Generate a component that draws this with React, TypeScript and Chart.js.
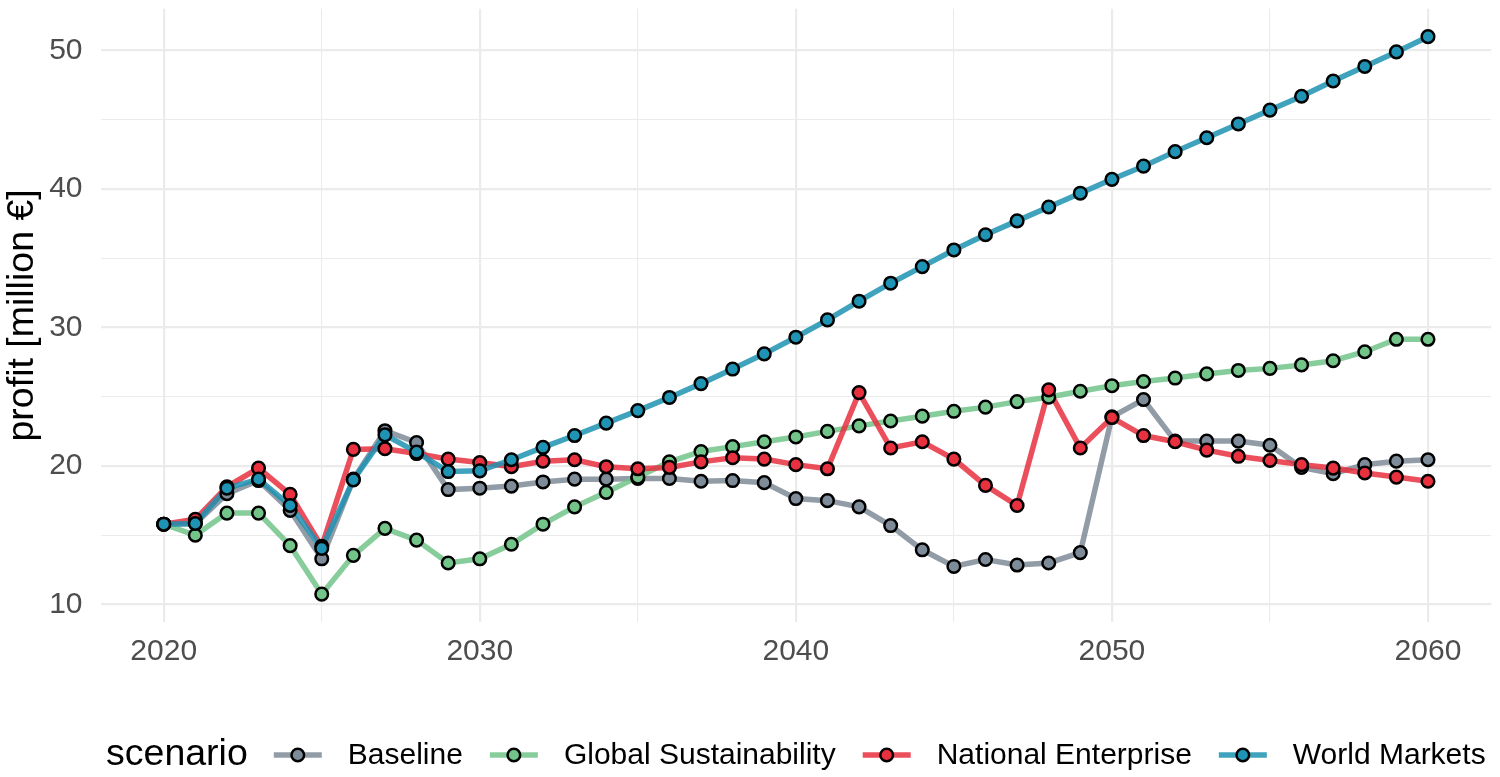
import React, { useEffect, useRef } from 'react';
import { Chart, registerables } from 'chart.js';

Chart.register(...registerables);

const years = [
  2020, 2021, 2022, 2023, 2024, 2025, 2026, 2027, 2028, 2029,
  2030, 2031, 2032, 2033, 2034, 2035, 2036, 2037, 2038, 2039,
  2040, 2041, 2042, 2043, 2044, 2045, 2046, 2047, 2048, 2049,
  2050, 2051, 2052, 2053, 2054, 2055, 2056, 2057, 2058, 2059, 2060,
];

const baseline = [
  15.8, 15.85, 18.0, 18.95, 16.8, 13.3, 19.05, 22.55, 21.7, 18.3,
  18.4, 18.55, 18.85, 19.05, 19.05, 19.1, 19.1, 18.9, 18.95, 18.8,
  17.65, 17.5, 17.05, 15.7, 13.95, 12.75, 13.25, 12.85, 13.0, 13.75,
  23.55, 24.8, 21.8, 21.8, 21.8, 21.5, 19.9, 19.45, 20.1, 20.35, 20.45,
];

const globalSustainability = [
  15.8, 15.0, 16.6, 16.6, 14.25, 10.75, 13.55, 15.5, 14.65, 13.0,
  13.3, 14.35, 15.8, 17.05, 18.1, 19.2, 20.3, 21.05, 21.4, 21.75,
  22.1, 22.5, 22.9, 23.25, 23.6, 23.95, 24.25, 24.65, 24.97, 25.4,
  25.8, 26.1, 26.35, 26.65, 26.9, 27.05, 27.3, 27.6, 28.25, 29.15, 29.15,
];

const nationalEnterprise = [
  15.8, 16.15, 18.5, 19.85, 17.95, 14.2, 21.2, 21.25, 20.9, 20.5,
  20.25, 19.95, 20.35, 20.45, 19.95, 19.8, 19.9, 20.3, 20.6, 20.5,
  20.1, 19.8, 25.3, 21.3, 21.75, 20.5, 18.6, 17.15, 25.5, 21.3,
  23.5, 22.2, 21.75, 21.15, 20.7, 20.4, 20.1, 19.85, 19.5, 19.2, 18.9,
];

const worldMarkets = [
  15.8, 15.85, 18.4, 19.05, 17.15, 14.05, 19.0, 22.25, 21.0, 19.6,
  19.65, 20.45, 21.35, 22.2, 23.1, 24.0, 24.95, 25.95, 27.0, 28.1,
  29.3, 30.55, 31.9, 33.2, 34.4, 35.6, 36.7, 37.7, 38.7, 39.7,
  40.7, 41.65, 42.7, 43.7, 44.7, 45.7, 46.7, 47.8, 48.85, 49.9, 51.0,
];

const seriesNames = ['Baseline', 'Global Sustainability', 'National Enterprise', 'World Markets'];
const seriesValues = [baseline, globalSustainability, nationalEnterprise, worldMarkets];
const pointColors = ['#7E8B98', '#72C489', '#E8303F', '#1E93B3'];
const lineColors = [
  'rgba(126,139,152,0.85)',
  'rgba(114,196,137,0.85)',
  'rgba(232,48,63,0.85)',
  'rgba(30,147,179,0.85)',
];

const xTickValues = [2020, 2025, 2030, 2035, 2040, 2045, 2050, 2055, 2060];
const yTickValues = [10, 15, 20, 25, 30, 35, 40, 45, 50];
const xMajor = [2020, 2030, 2040, 2050, 2060];
const yMajor = [10, 20, 30, 40, 50];

const legendTitle = 'scenario';
const yTitle = 'profit [million €]';

const FONT = '"Liberation Sans", Arial, Helvetica, sans-serif';
const POINT_R = 6.3;
const POINT_BW = 2.5;
const LINE_W = 5.5;

export default function App() {
  const ref = useRef<HTMLCanvasElement | null>(null);

  useEffect(() => {
    document.body.style.margin = '0';
    const canvas = ref.current;
    if (!canvas) return;

    const allVals = seriesValues.flat();
    const dMin = Math.min(...allVals);
    const dMax = Math.max(...allVals);
    const yExp = (dMax - dMin) * 0.05;
    const xMinD = Math.min(...years);
    const xMaxD = Math.max(...years);
    const xExp = (xMaxD - xMinD) * 0.05;

    const lineSets = seriesValues.map((vals, i) => ({
      label: seriesNames[i] + ' line',
      data: years.map((yr, j) => ({ x: yr, y: vals[j] })),
      borderColor: lineColors[i],
      backgroundColor: lineColors[i],
      borderWidth: LINE_W,
      pointRadius: 0,
      pointHoverRadius: 0,
      tension: 0,
      fill: false,
      order: 8 - i,
    }));
    const pointSets = seriesValues.map((vals, i) => ({
      label: seriesNames[i],
      data: years.map((yr, j) => ({ x: yr, y: vals[j] })),
      showLine: false,
      pointRadius: POINT_R,
      pointHoverRadius: POINT_R,
      pointBorderWidth: POINT_BW,
      pointBackgroundColor: pointColors[i],
      pointBorderColor: '#000000',
      borderColor: '#000000',
      backgroundColor: pointColors[i],
      order: 4 - i,
    }));

    const legendPlugin = {
      id: 'ggLegend',
      afterDraw(chart: any) {
        const ctx = chart.ctx as CanvasRenderingContext2D;
        const area = chart.chartArea;
        const cy = 755;
        const keyW = 48;
        const gapKeyText = 26;
        const gapItem = 27;
        ctx.save();
        ctx.font = `37.5px ${FONT}`;
        const titleW = ctx.measureText(legendTitle).width;
        ctx.font = `30px ${FONT}`;
        const labelWs = seriesNames.map((n) => ctx.measureText(n).width);
        let total = titleW + gapKeyText;
        labelWs.forEach((w, i) => {
          total += keyW + gapKeyText + w + (i < labelWs.length - 1 ? gapItem : 0);
        });
        let x = (area.left + area.right) / 2 - total / 2;
        ctx.textBaseline = 'middle';
        ctx.textAlign = 'left';
        ctx.fillStyle = '#000000';
        ctx.font = `37.5px ${FONT}`;
        ctx.fillText(legendTitle, x, cy);
        x += titleW + gapKeyText;
        ctx.font = `30px ${FONT}`;
        seriesNames.forEach((name, i) => {
          ctx.strokeStyle = lineColors[i];
          ctx.lineWidth = LINE_W;
          ctx.beginPath();
          ctx.moveTo(x, cy);
          ctx.lineTo(x + keyW, cy);
          ctx.stroke();
          ctx.beginPath();
          ctx.arc(x + keyW / 2, cy, POINT_R, 0, Math.PI * 2);
          ctx.fillStyle = pointColors[i];
          ctx.fill();
          ctx.lineWidth = POINT_BW;
          ctx.strokeStyle = '#000000';
          ctx.stroke();
          x += keyW + gapKeyText;
          ctx.fillStyle = '#000000';
          ctx.fillText(name, x, cy + 1);
          x += labelWs[i] + gapItem;
        });
        ctx.restore();
      },
    };

    const chart = new Chart(canvas, {
      type: 'line',
      data: { datasets: [...lineSets, ...pointSets] as any },
      options: {
        animation: false,
        responsive: false,
        maintainAspectRatio: false,
        layout: { padding: { left: 0, right: 2.5, top: 5, bottom: 95 } },
        plugins: {
          legend: { display: false },
          tooltip: { enabled: false },
        },
        scales: {
          x: {
            type: 'linear',
            min: xMinD - xExp,
            max: xMaxD + xExp,
            afterBuildTicks(scale: any) {
              scale.ticks = xTickValues.map((v) => ({ value: v }));
            },
            afterFit(scale: any) {
              scale.height = 60;
              scale.paddingLeft = 0;
              scale.paddingRight = 0;
            },
            ticks: {
              autoSkip: false,
              maxRotation: 0,
              padding: 12,
              color: '#4D4D4D',
              font: { family: FONT, size: 30 },
              callback: (v: any) => (xMajor.includes(Number(v)) ? String(v) : ''),
            },
            grid: {
              color: '#EBEBEB',
              lineWidth: (c: any) => (xMajor.includes(c.tick?.value) ? 2.2 : 1.1),
              drawTicks: false,
            },
            border: { display: false },
          },
          y: {
            type: 'linear',
            min: dMin - yExp,
            max: dMax + yExp,
            afterBuildTicks(scale: any) {
              scale.ticks = yTickValues.map((v) => ({ value: v }));
            },
            afterFit(scale: any) {
              scale.width = 100.5;
              scale.paddingTop = 0;
              scale.paddingBottom = 0;
            },
            ticks: {
              autoSkip: false,
              padding: 18,
              color: '#4D4D4D',
              font: { family: FONT, size: 30 },
              callback: (v: any) => (yMajor.includes(Number(v)) ? String(v) : ''),
            },
            grid: {
              color: '#EBEBEB',
              lineWidth: (c: any) => (yMajor.includes(c.tick?.value) ? 2.2 : 1.1),
              drawTicks: false,
            },
            border: { display: false },
            title: {
              display: true,
              text: yTitle,
              color: '#000000',
              font: { family: FONT, size: 37.5, lineHeight: 1.2 },
              padding: { top: 0, bottom: 0 },
            },
          },
        },
      },
      plugins: [legendPlugin],
    } as any);

    return () => {
      chart.destroy();
    };
  }, []);

  return (
    <div style={{ position: 'absolute', left: 0, top: 0, width: 1500, height: 777, background: '#ffffff' }}>
      <canvas ref={ref} width={1500} height={777} style={{ width: 1500, height: 777, display: 'block' }} />
    </div>
  );
}
